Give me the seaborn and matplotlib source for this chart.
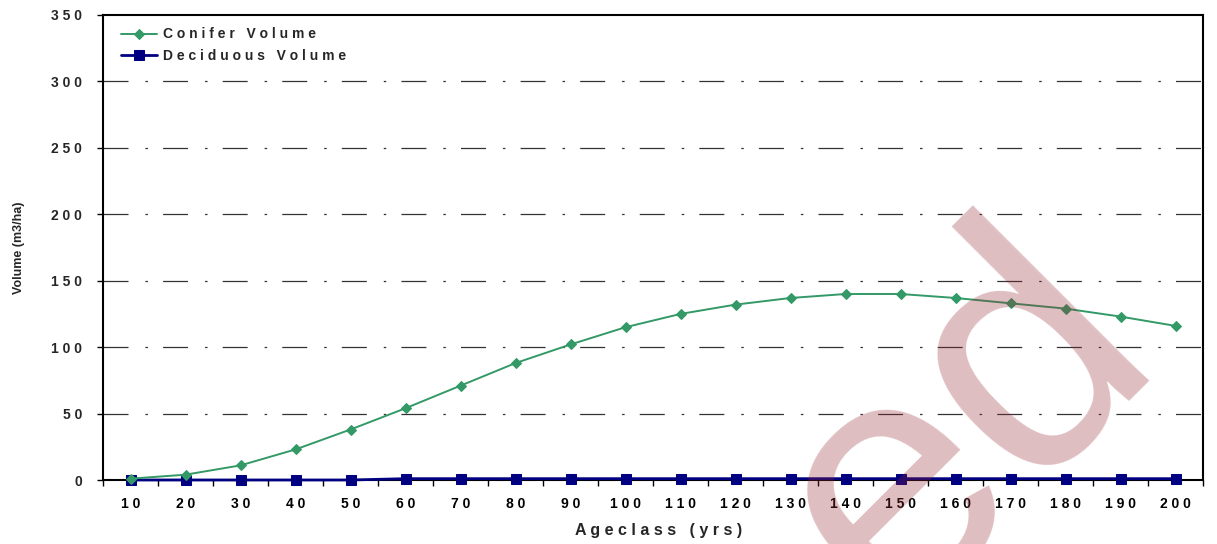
import matplotlib

matplotlib.use("Agg")

import matplotlib.pyplot as plt
from matplotlib.ticker import FixedLocator
import numpy as np
import seaborn as sns

AGES = [10, 20, 30, 40, 50, 60, 70, 80, 90, 100,
        110, 120, 130, 140, 150, 160, 170, 180, 190, 200]
CONIFER = [1, 4, 11, 23, 38, 54, 71, 88, 102, 115,
           125, 132, 137, 140, 140, 137, 133, 129, 123, 116]
DECIDUOUS = [0, 0, 0, 0, 0, 1, 1, 1, 1, 1,
             1, 1, 1, 1, 1, 1, 1, 1, 1, 1]
Y_TICKS = [0, 50, 100, 150, 200, 250, 300, 350]

GREEN = "#339966"
NAVY = "#000080"


def spaced(s):
    return " ".join(s)


sns.set_style("white")
plt.rcParams["font.family"] = ["Liberation Sans", "DejaVu Sans"]
plt.rcParams["lines.scale_dashes"] = False

fig = plt.figure(figsize=(12.17, 5.44), dpi=100)
ax = fig.add_axes([103 / 1217, 1 - 480 / 544, 1100 / 1217, 465 / 544])

sns.lineplot(x=AGES, y=CONIFER, ax=ax, color=GREEN, linewidth=1.4,
             marker="D", markersize=5, markeredgecolor=GREEN,
             label=spaced("Conifer Volume"), zorder=4, clip_on=False)
sns.lineplot(x=AGES, y=DECIDUOUS, ax=ax, color=NAVY, linewidth=2.0,
             marker="s", markersize=7, markeredgecolor=NAVY,
             label=spaced("Deciduous Volume"), zorder=3, clip_on=False)

ax.set_xlim(5, 205)
ax.set_ylim(0, 350)

# category-style x axis: labels at centres, tick marks at boundaries
ax.xaxis.set_major_locator(FixedLocator(AGES))
ax.set_xticklabels([spaced(str(a)) for a in AGES])
ax.xaxis.set_minor_locator(FixedLocator(list(np.arange(5, 206, 10))))
ax.tick_params(axis="x", which="major", length=0, pad=12,
               labelsize=10, labelcolor="black")
ax.tick_params(axis="x", which="minor", bottom=True, length=4,
               width=1, color="black", direction="out")

ax.set_yticks(Y_TICKS)
ax.set_yticklabels([spaced(str(v)) for v in Y_TICKS])
ax.tick_params(axis="y", which="major", left=True, length=4.5, width=1,
               color="black", direction="out", pad=10.5, labelsize=10)
for lab in ax.get_xticklabels() + ax.get_yticklabels():
    lab.set_fontweight("bold")

for v in Y_TICKS[1:-1]:
    ax.axhline(v, color="#333333", linewidth=0.9,
               linestyle=(0, (18, 12.2, 1.8, 10.9)), zorder=1)

for side in ["left", "right", "top", "bottom"]:
    ax.spines[side].set_visible(True)
    ax.spines[side].set_color("black")
    ax.spines[side].set_linewidth(1.5)

ax.set_xlabel(spaced("Ageclass (yrs)"), fontsize=11.5, fontweight="bold")
ax.xaxis.set_label_coords(0.505, -0.092)
ax.set_ylabel("Volume (m3/ha)", fontsize=9, fontweight="bold")
ax.yaxis.set_label_coords(-0.071, 0.5)

ax.legend(loc="upper left", bbox_to_anchor=(0.005, 1.0), frameon=False,
          handlelength=2.6, handletextpad=0.45,
          labelspacing=0.55, prop={"weight": "bold", "size": 10})

# watermark
fig.text(1162 / 1217, 1 - 354 / 544, "ed", fontsize=247, color="#962832",
         alpha=0.3, rotation=45, rotation_mode="anchor", ha="right",
         va="baseline", zorder=10)

fig.savefig("out.png", dpi=100)
